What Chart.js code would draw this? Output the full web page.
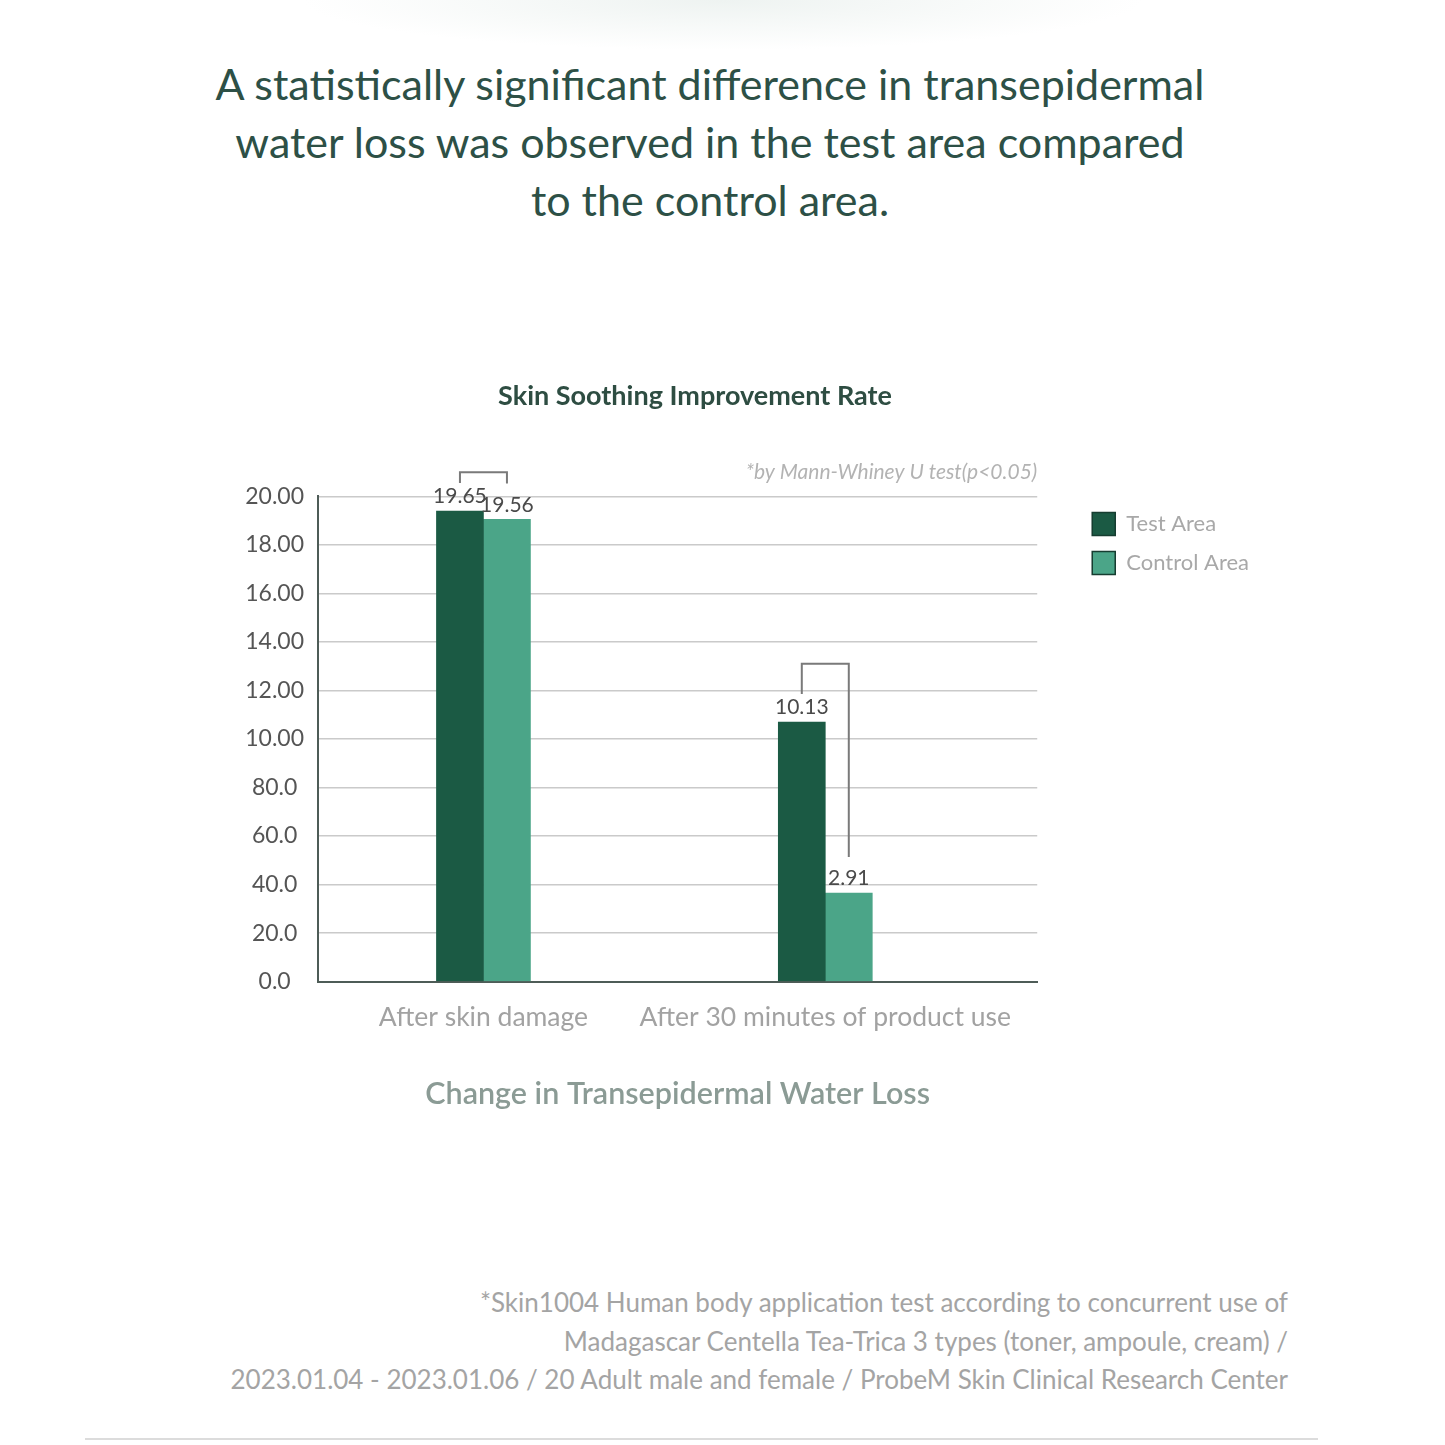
<!DOCTYPE html>
<html>
<head>
<meta charset="utf-8">
<script src="https://cdn.jsdelivr.net/npm/chart.js@4.4.0/dist/chart.umd.min.js"></script>
<style>
  body {
    margin: 0;
    width: 1445px;
    height: 1445px;
    position: relative;
    overflow: hidden;
    font-family: Lato, 'Noto Sans', sans-serif;
    background: radial-gradient(ellipse 420px 50px at 50% 0, #eef3f1, #ffffff);
  }
  .headline {
    position: absolute;
    top: 55px;
    left: 0;
    width: 1420px;
    text-align: center;
    font-size: 43px;
    line-height: 58px;
    color: #2d5046;
  }
  #wrap { position: absolute; left: 100px; top: 370px; width: 1159px; height: 760px; }
  .note {
    position: absolute;
    right: 157px;
    top: 1283px;
    text-align: right;
    font-size: 26px;
    line-height: 38.5px;
    color: #a4a4a4;
  }
  .rule { position: absolute; left: 85px; top: 1438px; width: 1233px; height: 2px; background: #dcdcdc; }
</style>
</head>
<body>
<div class="headline">A statistically significant difference in transepidermal<br>water loss was observed in the test area compared<br>to the control area.</div>
<div id="wrap"><canvas id="chart"></canvas></div>
<div class="note">*Skin1004 Human body application test according to concurrent use of<br>Madagascar Centella Tea-Trica 3 types (toner, ampoule, cream) /<br>2023.01.04 - 2023.01.06 / 20 Adult male and female / ProbeM Skin Clinical Research Center</div>
<div class="rule"></div>

<script>
// categories sit at x = 1 and 2 on a linear axis so the groups can be placed like the original
const categories = ['After skin damage', 'After 30 minutes of product use'];
const categoryX = [1, 2];

// bar heights as drawn in the picture
const testArea = [19.4, 10.7];
const controlArea = [19.05, 3.65];

// the printed value labels (they do not match the bar heights in the original)
const testLabels = ['19.65', '10.13'];
const controlLabels = ['19.56', '2.91'];

// height of the significance bracket above each group, in axis units
const bracketLevels = [21.0, 13.1];

// y tick labels exactly as printed
const yTicks = [0, 2, 4, 6, 8, 10, 12, 14, 16, 18, 20];
const yTickLabels = ['0.0', '20.0', '40.0', '60.0', '80.0', '10.00', '12.00', '14.00', '16.00', '18.00', '20.00'];

const TEST_COLOR = '#1b5a44';
const CONTROL_COLOR = '#4ba588';
const FONT = "Lato, 'Noto Sans', sans-serif";

const annotations = {
  id: 'annotations',
  afterDatasetsDraw(chart) {
    const { ctx, chartArea, scales } = chart;
    const metas = [chart.getDatasetMeta(0), chart.getDatasetMeta(1)];
    const labels = [testLabels, controlLabels];

    ctx.save();
    ctx.font = `21px ${FONT}`;
    ctx.fillStyle = '#4a4a4a';
    ctx.textAlign = 'center';
    ctx.textBaseline = 'bottom';
    metas.forEach((meta, i) => {
      meta.data.forEach((bar, j) => ctx.fillText(labels[i][j], bar.x, bar.y - 4));
    });

    // brackets between the two bars of each group
    ctx.strokeStyle = '#7a7a7a';
    ctx.lineWidth = 2;
    categoryX.forEach((_, j) => {
      const a = metas[0].data[j];
      const b = metas[1].data[j];
      const top = scales.y.getPixelForValue(bracketLevels[j]);
      ctx.beginPath();
      ctx.moveTo(a.x, a.y - 28);
      ctx.lineTo(a.x, top);
      ctx.lineTo(b.x, top);
      ctx.lineTo(b.x, b.y - 36);
      ctx.stroke();
    });

    ctx.font = `italic 21px ${FONT}`;
    ctx.fillStyle = '#b3b3b3';
    ctx.textAlign = 'right';
    ctx.fillText('*by Mann-Whiney U test(p<0.05)', chartArea.right, chartArea.top - 14);
    ctx.restore();
  }
};

new Chart(document.getElementById('chart'), {
  type: 'bar',
  data: {
    datasets: [
      {
        label: 'Test Area',
        data: categoryX.map((x, i) => ({ x, y: testArea[i] })),
        backgroundColor: TEST_COLOR,
        borderWidth: 0,
      },
      {
        label: 'Control Area',
        data: categoryX.map((x, i) => ({ x, y: controlArea[i] })),
        backgroundColor: CONTROL_COLOR,
        borderWidth: 0,
      },
    ],
  },
  options: {
    responsive: true,
    maintainAspectRatio: false,
    animation: false,
    barThickness: 47,
    layout: { padding: { left: 31, right: 0, top: 0, bottom: 18 } },
    plugins: {
      tooltip: { enabled: false },
      title: {
        display: true,
        text: 'Skin Soothing Improvement Rate',
        color: '#2e4d42',
        font: { family: FONT, size: 27, weight: 'bold' },
        padding: { top: 10, bottom: 84 },
      },
      legend: {
        position: 'right',
        align: 'start',
        fullSize: false,
        labels: {
          boxWidth: 23,
          boxHeight: 23,
          padding: 16,
          color: '#a8a8a8',
          font: { family: FONT, size: 22 },
          generateLabels: (chart) =>
            Chart.defaults.plugins.legend.labels.generateLabels(chart).map((l) => ({
              ...l,
              lineWidth: 1.5,
              strokeStyle: '#163d30',
            })),
        },
      },
    },
    scales: {
      x: {
        type: 'linear',
        offset: false,
        min: 0.516,
        max: 2.62,
        afterBuildTicks: (s) => { s.ticks = categoryX.map((v) => ({ value: v })); },
        grid: { display: false, offset: false, drawTicks: false },
        border: { display: true, color: '#4e5c57', width: 2 },
        ticks: {
          padding: 20,
          color: '#a2a2a2',
          font: { family: FONT, size: 26.5 },
          callback: (v) => categories[categoryX.indexOf(v)],
        },
        title: {
          display: true,
          text: 'Change in Transepidermal Water Loss',
          color: '#8b9b95',
          font: { family: FONT, size: 30.5, weight: '600' },
          padding: { top: 22, bottom: 0 },
        },
      },
      y: {
        min: 0,
        max: 20,
        afterBuildTicks: (s) => { s.ticks = yTicks.map((v) => ({ value: v })); },
        afterFit: (s) => { s.width = 187; },
        grid: { color: '#cacaca', lineWidth: 1.5, drawTicks: false },
        border: { display: true, color: '#4e5c57', width: 2 },
        ticks: {
          padding: 14,
          crossAlign: 'center',
          color: '#555555',
          font: { family: FONT, size: 23 },
          callback: (v, i) => yTickLabels[i],
        },
      },
      // empty spacer between the plot and the legend
      gap: {
        type: 'linear',
        position: 'right',
        grid: { display: false },
        border: { display: false },
        ticks: { display: false },
        afterFit: (s) => { s.width = 39; },
      },
    },
  },
  plugins: [annotations],
});
</script>
</body>
</html>
